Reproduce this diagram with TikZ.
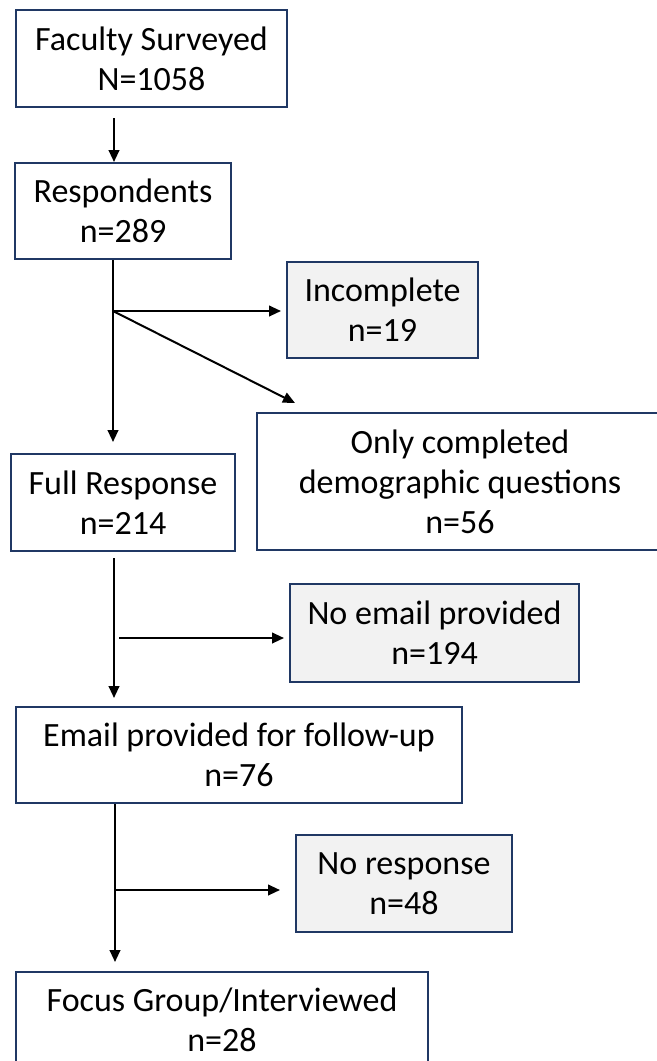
\documentclass[tikz,border=0pt]{standalone}
\usepackage{fontspec}
\setmainfont{Carlito}
\usetikzlibrary{arrows.meta,calc}
\definecolor{navy}{RGB}{32,56,100}
\definecolor{boxgray}{RGB}{242,242,242}
\begin{document}
\begin{tikzpicture}[x=0.75pt,y=-0.75pt,
  box/.style={draw=navy, line width=1.5pt, align=center, inner sep=0pt, text=black,
    font=\fontsize{25.5}{30}\selectfont},
  greybox/.style={box, fill=boxgray},
  arr/.style={draw=black, line width=1.5pt, -{Triangle[length=9pt,width=8pt]}}]
\fill[white] (0,0) rectangle (657,1061);
\clip (0,0) rectangle (657,1061);
% nodes
\node[box, minimum width=271*0.75pt, minimum height=97*0.75pt] (fac) at (151.5,58.5) {Faculty Surveyed\\N=1058};
\node[box, minimum width=216*0.75pt, minimum height=96*0.75pt] (resp) at (123,211) {Respondents\\n=289};
\node[greybox, minimum width=191*0.75pt, minimum height=96*0.75pt] (inc) at (382.5,310) {Incomplete\\n=19};
\node[box, minimum width=406*0.75pt, minimum height=137*0.75pt] (only) at (460,481.5) {Only completed\\demographic questions\\n=56};
\node[box, minimum width=224*0.75pt, minimum height=97*0.75pt] (full) at (123,502.5) {Full Response\\n=214};
\node[greybox, minimum width=289*0.75pt, minimum height=98*0.75pt] (noem) at (434.5,633) {No email provided\\n=194};
\node[box, minimum width=446*0.75pt, minimum height=96*0.75pt] (email) at (239,755) {Email provided for follow-up\\n=76};
\node[greybox, minimum width=216*0.75pt, minimum height=97*0.75pt] (nores) at (404,883.5) {No response\\n=48};
\node[box, minimum width=412*0.75pt, minimum height=96*0.75pt] (focus) at (222,1020) {Focus Group/Interviewed\\n=28};
% branch coordinates
\coordinate (t0) at (114,0);
\coordinate (b1) at (113,311);
\coordinate (d1) at (295,403);
\coordinate (b2) at (114,638);
\coordinate (b3) at (115,890);
% connectors
\draw[arr, shorten <=7.5pt] (fac.south -| t0) -- (resp.north -| t0);
\draw[arr, shorten >=8.25pt] (resp.south -| b1) -- (full.north -| b1);
\draw[arr, shorten >=3.75pt] (b1) -- (b1 -| inc.west);
\draw[arr] (b1) -- (d1);
\draw[arr, shorten <=4.5pt, shorten >=6pt] (full.south -| b2) -- (email.north -| b2);
\draw[arr, shorten <=3.75pt, shorten >=3.75pt] (b2) -- (b2 -| noem.west);
\draw[arr, shorten >=6.75pt] (email.south -| b3) -- (focus.north -| b3);
\draw[arr, shorten >=11.25pt] (b3) -- (b3 -| nores.west);
\end{tikzpicture}
\end{document}
